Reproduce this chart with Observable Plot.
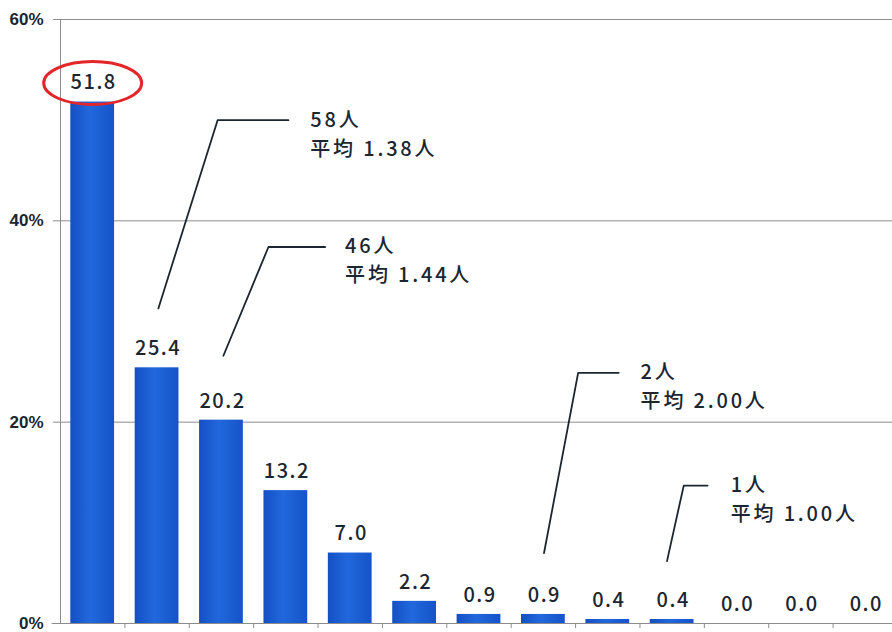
<!DOCTYPE html>
<html><head><meta charset="utf-8">
<script src="https://cdn.jsdelivr.net/npm/d3@7"></script>
<script src="https://cdn.jsdelivr.net/npm/@observablehq/plot@0.6"></script>
<style>
body{margin:0;background:#fff;overflow:hidden}
#chart{width:892px;height:632px;overflow:hidden}
</style>
</head><body><div id="chart"></div>
<script>
// ---- data ----
const categories = ["1","2","3","4","5","6","7","8","9","10","11","12","13"];
const values = [51.8, 25.4, 20.2, 13.2, 7.0, 2.2, 0.9, 0.9, 0.4, 0.4, 0.0, 0.0, 0.0];
const yTicks = [0, 20, 40, 60];
const highlightIndex = 0;

// annotations (in data units: x = category index, y = percent)
const annotationLines1 = ["58人", "46人", "2人", "1人"];
const annotationLines2 = ["平均 1.38人", "平均 1.44人", "平均 2.00人", "平均 1.00人"];
const annotationTextX = [3.38, 3.92, 8.51, 9.91];
const annotationTextY = [50, 37.4, 24.9, 13.7];
const annotationLeaders = [
  [[1.02, 31.3], [1.94, 50.0], [3.04, 50.0]],
  [[2.03, 26.6], [2.73, 37.4], [3.61, 37.4]],
  [[7.01, 7.0], [7.54, 24.9], [8.17, 24.9]],
  [[8.92, 6.2], [9.18, 13.7], [9.55, 13.7]]
];

// ---- tables ----
const rows = categories.map((c, i) => ({i, category: c, value: values[i]}));
const leaderRows = annotationLeaders.flatMap((pts, k) => pts.map(([x, y]) => ({k, x, y})));
const textRows = annotationLines1.map((t, k) => ({x: annotationTextX[k], y: annotationTextY[k], l1: t, l2: annotationLines2[k]}));
const tickPositions = categories.slice(0, -1).map((c, i) => i + 0.5);

const ink = "#1c2630";
const grid = "#8c8c8c";
const cjk = "'Noto Sans CJK JP', 'Noto Sans', sans-serif";

const ellipse = {
  draw(ctx, size) {
    const r = Math.sqrt(size / Math.PI);
    const ry = r, rx = r * 49 / 21.5, k = 0.5523;
    ctx.moveTo(rx, 0);
    ctx.bezierCurveTo(rx, ry * k, rx * k, ry, 0, ry);
    ctx.bezierCurveTo(-rx * k, ry, -rx, ry * k, -rx, 0);
    ctx.bezierCurveTo(-rx, -ry * k, -rx * k, -ry, 0, -ry);
    ctx.bezierCurveTo(rx * k, -ry, rx, -ry * k, rx, 0);
    ctx.closePath();
  }
};

const defs = () => {
  const d = d3.create("svg:defs");
  const g = d.append("linearGradient").attr("id", "barGrad").attr("x1", 0).attr("x2", 1).attr("y1", 0).attr("y2", 0);
  g.append("stop").attr("offset", "0%").attr("stop-color", "#1450c4");
  g.append("stop").attr("offset", "45%").attr("stop-color", "#2168dc");
  g.append("stop").attr("offset", "100%").attr("stop-color", "#1553c8");
  return d.node();
};

const plot = Plot.plot({
  width: 897,
  height: 632,
  marginLeft: 60,
  marginRight: 0,
  marginTop: 19,
  marginBottom: 9,
  style: {maxWidth: "none", background: "#fff", overflow: "visible"},
  x: {type: "linear", domain: [-0.5, categories.length - 0.5], axis: null},
  y: {domain: [0, 60], axis: null},
  marks: [
    defs,
    Plot.ruleY(yTicks.filter(v => v > 0), {x1: -0.61, x2: categories.length - 0.5, stroke: grid, strokeWidth: 1}),
    Plot.rectY(rows, {x1: d => d.i - 0.34, x2: d => d.i + 0.34, y1: 0, y2: "value", fill: "url(#barGrad)"}),
    Plot.ruleX([-0.5], {y1: 0, y2: 60, stroke: grid, strokeWidth: 1}),
    Plot.ruleY([0], {x1: -0.63, x2: categories.length - 0.5, stroke: grid, strokeWidth: 1.2}),
    Plot.axisX({ticks: tickPositions, tickSize: 5, tickFormat: () => "", stroke: grid}),
    Plot.axisY({ticks: yTicks, tickSize: 0, tickPadding: 17, tickFormat: d => d + "%",
      fontSize: 17, fontWeight: "bold", fill: ink, fontFamily: "'Liberation Sans', Arial, sans-serif", lineAnchor: "middle"}),
    Plot.text(rows, {x: "i", y: "value", text: d => d3.format(".1f")(d.value), dy: -19, dx: 1,
      fontSize: 20, fontWeight: 500, fill: ink, fontFamily: cjk, lineAnchor: "middle", textAnchor: "middle",
      className: "vlabel"}),
    Plot.dot([rows[highlightIndex]], {x: "i", y: "value", dy: -19, r: 21.5, symbol: ellipse, stroke: "#e3262a", strokeWidth: 3, fill: "none"}),
    Plot.line(leaderRows, {x: "x", y: "y", z: "k", stroke: ink, strokeWidth: 1.8, curve: "linear"}),
    Plot.text(textRows, {x: "x", y: "y", text: "l1", textAnchor: "start", lineAnchor: "middle",
      fontSize: 20, fontWeight: 500, fill: ink, fontFamily: cjk, className: "alabel"}),
    Plot.text(textRows, {x: "x", y: "y", text: "l2", textAnchor: "start", lineAnchor: "middle", dy: 29,
      fontSize: 20, fontWeight: 500, fill: ink, fontFamily: cjk, className: "alabel"})
  ]
});
plot.querySelectorAll(".vlabel text").forEach(t => t.setAttribute("letter-spacing", "1.5"));
plot.querySelectorAll(".alabel text").forEach(t => t.setAttribute("letter-spacing", "2.8"));
document.getElementById("chart").appendChild(plot);
</script>
</body></html>
